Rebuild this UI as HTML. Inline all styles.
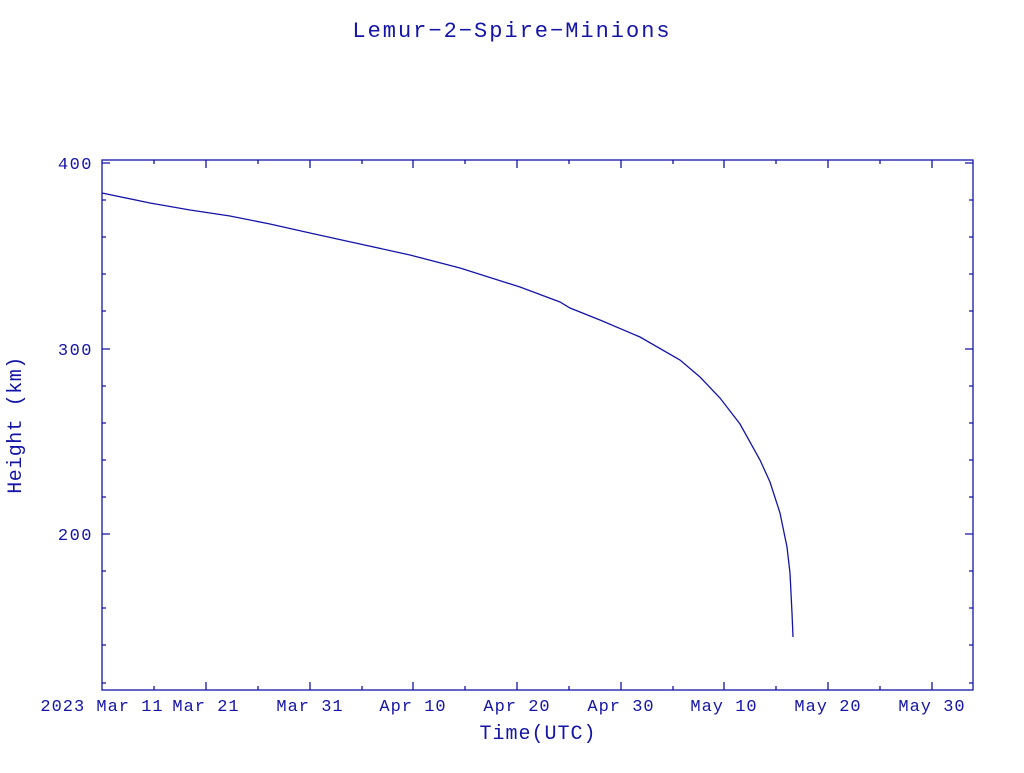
<!DOCTYPE html>
<html><head><style>
body{margin:0;background:#fff;}
svg text{font-family:"Liberation Mono","DejaVu Sans Mono",monospace;fill:#1414a8;}
</style></head><body>
<svg width="1024" height="768" xmlns="http://www.w3.org/2000/svg">
<rect width="1024" height="768" fill="#fff"/>
<text x="512" y="37" font-size="22" text-anchor="middle" letter-spacing="2">Lemur−2−Spire−Minions</text>
<g stroke="#1414a8" stroke-width="1.3" fill="none">
<rect x="102" y="160" width="871" height="530"/>
<path d="M206,690v-8M310,690v-8M413,690v-8M517,690v-8M621,690v-8M724,690v-8M828,690v-8M932,690v-8
M206,160v8M310,160v8M413,160v8M517,160v8M621,160v8M724,160v8M828,160v8M932,160v8
M154,690v-4M258,690v-4M362,690v-4M465,690v-4M569,690v-4M673,690v-4M776,690v-4M880,690v-4
M154,160v4M258,160v4M362,160v4M465,160v4M569,160v4M673,160v4M776,160v4M880,160v4"/>
<path d="M102,163h8M102,349h8M102,534h8M973,163h-8M973,349h-8M973,534h-8
M102,200h4M102,237h4M102,274h4M102,311h4M102,386h4M102,423h4M102,460h4M102,497h4M102,571h4M102,608h4M102,645h4M102,683h4
M973,200h-4M973,237h-4M973,274h-4M973,311h-4M973,386h-4M973,423h-4M973,460h-4M973,497h-4M973,571h-4M973,608h-4M973,645h-4M973,683h-4"/>
<polyline points="102,193 150,203 190,210 230,216 270,224 310,233 360,244 410,255 460,268 520,287 560,302 570,308 600,320 640,337 680,360 700,377 720,398 740,424 760,460 770,482 780,513 787,547 790,573 792,613 793,637"/>
</g>
<g font-size="17" text-anchor="end" letter-spacing="1.5">
<text x="93" y="169">400</text>
<text x="93" y="355">300</text>
<text x="93" y="540">200</text>
</g>
<g font-size="17" text-anchor="middle" letter-spacing="1">
<text x="102" y="711">2023 Mar 11</text>
<text x="206" y="711">Mar 21</text>
<text x="310" y="711">Mar 31</text>
<text x="413" y="711">Apr 10</text>
<text x="517" y="711">Apr 20</text>
<text x="621" y="711">Apr 30</text>
<text x="724" y="711">May 10</text>
<text x="828" y="711">May 20</text>
<text x="932" y="711">May 30</text>
</g>
<text x="538" y="739" font-size="20" text-anchor="middle" letter-spacing="1">Time(UTC)</text>
<text transform="translate(21,425) rotate(-90)" font-size="20" text-anchor="middle" letter-spacing="0.5">Height (km)</text>
</svg>
</body></html>
